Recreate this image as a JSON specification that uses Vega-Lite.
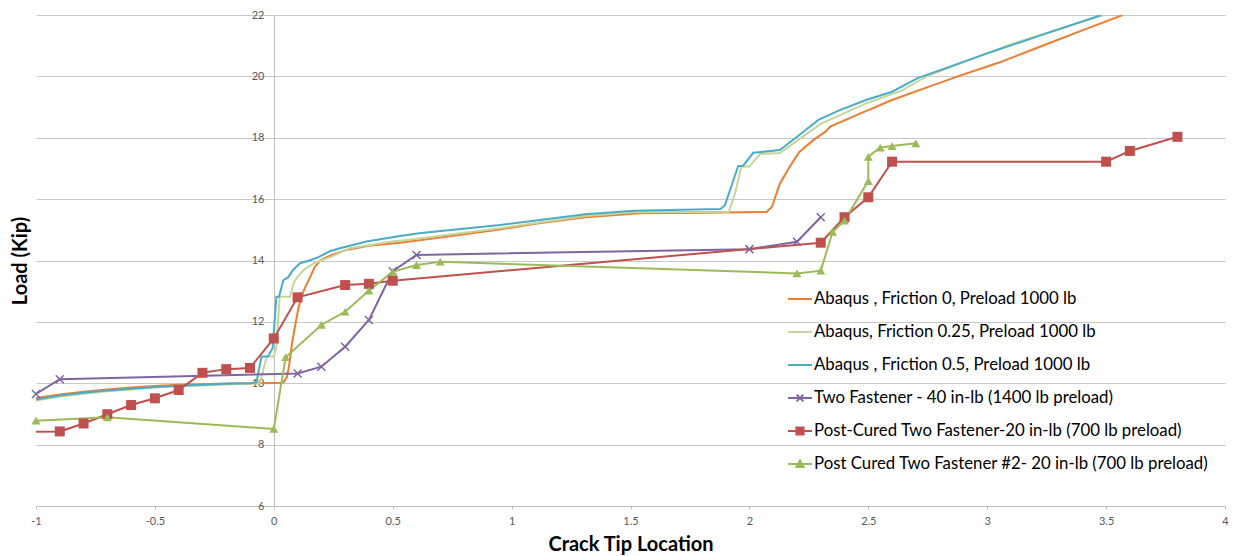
{
  "$schema": "https://vega.github.io/schema/vega-lite/v6.json",
  "width": 1189,
  "height": 491,
  "autosize": "none",
  "padding": {"left": 36, "top": 15, "right": 10, "bottom": 50},
  "background": "white",
  "config": {"font": "Lato", "view": {"stroke": null}},
  "data": {"values": [
    {"s":"Abaqus , Friction 0, Preload 1000 lb","i":0,"x":-1,"y":9.52},
    {"s":"Abaqus , Friction 0, Preload 1000 lb","i":1,"x":-0.9,"y":9.63},
    {"s":"Abaqus , Friction 0, Preload 1000 lb","i":2,"x":-0.8,"y":9.72},
    {"s":"Abaqus , Friction 0, Preload 1000 lb","i":3,"x":-0.7,"y":9.8},
    {"s":"Abaqus , Friction 0, Preload 1000 lb","i":4,"x":-0.6,"y":9.86},
    {"s":"Abaqus , Friction 0, Preload 1000 lb","i":5,"x":-0.5,"y":9.91},
    {"s":"Abaqus , Friction 0, Preload 1000 lb","i":6,"x":-0.4,"y":9.95},
    {"s":"Abaqus , Friction 0, Preload 1000 lb","i":7,"x":-0.3,"y":9.97},
    {"s":"Abaqus , Friction 0, Preload 1000 lb","i":8,"x":-0.2,"y":9.99},
    {"s":"Abaqus , Friction 0, Preload 1000 lb","i":9,"x":-0.1,"y":10.0},
    {"s":"Abaqus , Friction 0, Preload 1000 lb","i":10,"x":0,"y":10.01},
    {"s":"Abaqus , Friction 0, Preload 1000 lb","i":11,"x":0.04,"y":10.02},
    {"s":"Abaqus , Friction 0, Preload 1000 lb","i":12,"x":0.055,"y":10.2},
    {"s":"Abaqus , Friction 0, Preload 1000 lb","i":13,"x":0.065,"y":10.6},
    {"s":"Abaqus , Friction 0, Preload 1000 lb","i":14,"x":0.075,"y":11.2},
    {"s":"Abaqus , Friction 0, Preload 1000 lb","i":15,"x":0.09,"y":11.9},
    {"s":"Abaqus , Friction 0, Preload 1000 lb","i":16,"x":0.105,"y":12.5},
    {"s":"Abaqus , Friction 0, Preload 1000 lb","i":17,"x":0.125,"y":13.0},
    {"s":"Abaqus , Friction 0, Preload 1000 lb","i":18,"x":0.15,"y":13.42},
    {"s":"Abaqus , Friction 0, Preload 1000 lb","i":19,"x":0.173,"y":13.8},
    {"s":"Abaqus , Friction 0, Preload 1000 lb","i":20,"x":0.2,"y":14.02},
    {"s":"Abaqus , Friction 0, Preload 1000 lb","i":21,"x":0.225,"y":14.12},
    {"s":"Abaqus , Friction 0, Preload 1000 lb","i":22,"x":0.25,"y":14.2},
    {"s":"Abaqus , Friction 0, Preload 1000 lb","i":23,"x":0.3,"y":14.33},
    {"s":"Abaqus , Friction 0, Preload 1000 lb","i":24,"x":0.4,"y":14.48},
    {"s":"Abaqus , Friction 0, Preload 1000 lb","i":25,"x":0.53,"y":14.58},
    {"s":"Abaqus , Friction 0, Preload 1000 lb","i":26,"x":0.7,"y":14.75},
    {"s":"Abaqus , Friction 0, Preload 1000 lb","i":27,"x":0.95,"y":15.01},
    {"s":"Abaqus , Friction 0, Preload 1000 lb","i":28,"x":1.1,"y":15.2},
    {"s":"Abaqus , Friction 0, Preload 1000 lb","i":29,"x":1.31,"y":15.41},
    {"s":"Abaqus , Friction 0, Preload 1000 lb","i":30,"x":1.54,"y":15.54},
    {"s":"Abaqus , Friction 0, Preload 1000 lb","i":31,"x":1.8,"y":15.56},
    {"s":"Abaqus , Friction 0, Preload 1000 lb","i":32,"x":2.072,"y":15.58},
    {"s":"Abaqus , Friction 0, Preload 1000 lb","i":33,"x":2.095,"y":15.75},
    {"s":"Abaqus , Friction 0, Preload 1000 lb","i":34,"x":2.128,"y":16.5},
    {"s":"Abaqus , Friction 0, Preload 1000 lb","i":35,"x":2.17,"y":17.06},
    {"s":"Abaqus , Friction 0, Preload 1000 lb","i":36,"x":2.21,"y":17.54},
    {"s":"Abaqus , Friction 0, Preload 1000 lb","i":37,"x":2.27,"y":17.93},
    {"s":"Abaqus , Friction 0, Preload 1000 lb","i":38,"x":2.32,"y":18.2},
    {"s":"Abaqus , Friction 0, Preload 1000 lb","i":39,"x":2.34,"y":18.36},
    {"s":"Abaqus , Friction 0, Preload 1000 lb","i":40,"x":2.45,"y":18.74},
    {"s":"Abaqus , Friction 0, Preload 1000 lb","i":41,"x":2.6,"y":19.23},
    {"s":"Abaqus , Friction 0, Preload 1000 lb","i":42,"x":2.75,"y":19.65},
    {"s":"Abaqus , Friction 0, Preload 1000 lb","i":43,"x":2.876,"y":20.0},
    {"s":"Abaqus , Friction 0, Preload 1000 lb","i":44,"x":3.05,"y":20.45},
    {"s":"Abaqus , Friction 0, Preload 1000 lb","i":45,"x":3.2,"y":20.9},
    {"s":"Abaqus , Friction 0, Preload 1000 lb","i":46,"x":3.4,"y":21.5},
    {"s":"Abaqus , Friction 0, Preload 1000 lb","i":47,"x":3.57,"y":22.0},

    {"s":"Abaqus, Friction 0.25, Preload 1000 lb","i":0,"x":-1,"y":9.44},
    {"s":"Abaqus, Friction 0.25, Preload 1000 lb","i":1,"x":-0.9,"y":9.57},
    {"s":"Abaqus, Friction 0.25, Preload 1000 lb","i":2,"x":-0.8,"y":9.66},
    {"s":"Abaqus, Friction 0.25, Preload 1000 lb","i":3,"x":-0.7,"y":9.74},
    {"s":"Abaqus, Friction 0.25, Preload 1000 lb","i":4,"x":-0.6,"y":9.8},
    {"s":"Abaqus, Friction 0.25, Preload 1000 lb","i":5,"x":-0.5,"y":9.86},
    {"s":"Abaqus, Friction 0.25, Preload 1000 lb","i":6,"x":-0.4,"y":9.9},
    {"s":"Abaqus, Friction 0.25, Preload 1000 lb","i":7,"x":-0.3,"y":9.93},
    {"s":"Abaqus, Friction 0.25, Preload 1000 lb","i":8,"x":-0.2,"y":9.96},
    {"s":"Abaqus, Friction 0.25, Preload 1000 lb","i":9,"x":-0.1,"y":9.98},
    {"s":"Abaqus, Friction 0.25, Preload 1000 lb","i":10,"x":-0.06,"y":10.0},
    {"s":"Abaqus, Friction 0.25, Preload 1000 lb","i":11,"x":-0.045,"y":10.4},
    {"s":"Abaqus, Friction 0.25, Preload 1000 lb","i":12,"x":-0.03,"y":10.87},
    {"s":"Abaqus, Friction 0.25, Preload 1000 lb","i":13,"x":0.0,"y":10.87},
    {"s":"Abaqus, Friction 0.25, Preload 1000 lb","i":14,"x":0.01,"y":11.14},
    {"s":"Abaqus, Friction 0.25, Preload 1000 lb","i":15,"x":0.025,"y":12.82},
    {"s":"Abaqus, Friction 0.25, Preload 1000 lb","i":16,"x":0.068,"y":12.82},
    {"s":"Abaqus, Friction 0.25, Preload 1000 lb","i":17,"x":0.085,"y":13.3},
    {"s":"Abaqus, Friction 0.25, Preload 1000 lb","i":18,"x":0.1,"y":13.47},
    {"s":"Abaqus, Friction 0.25, Preload 1000 lb","i":19,"x":0.125,"y":13.69},
    {"s":"Abaqus, Friction 0.25, Preload 1000 lb","i":20,"x":0.17,"y":13.91},
    {"s":"Abaqus, Friction 0.25, Preload 1000 lb","i":21,"x":0.2,"y":14.0},
    {"s":"Abaqus, Friction 0.25, Preload 1000 lb","i":22,"x":0.24,"y":14.12},
    {"s":"Abaqus, Friction 0.25, Preload 1000 lb","i":23,"x":0.32,"y":14.4},
    {"s":"Abaqus, Friction 0.25, Preload 1000 lb","i":24,"x":0.49,"y":14.61},
    {"s":"Abaqus, Friction 0.25, Preload 1000 lb","i":25,"x":0.61,"y":14.72},
    {"s":"Abaqus, Friction 0.25, Preload 1000 lb","i":26,"x":0.95,"y":15.05},
    {"s":"Abaqus, Friction 0.25, Preload 1000 lb","i":27,"x":1.31,"y":15.45},
    {"s":"Abaqus, Friction 0.25, Preload 1000 lb","i":28,"x":1.51,"y":15.57},
    {"s":"Abaqus, Friction 0.25, Preload 1000 lb","i":29,"x":1.914,"y":15.59},
    {"s":"Abaqus, Friction 0.25, Preload 1000 lb","i":30,"x":1.94,"y":16.2},
    {"s":"Abaqus, Friction 0.25, Preload 1000 lb","i":31,"x":1.966,"y":17.06},
    {"s":"Abaqus, Friction 0.25, Preload 1000 lb","i":32,"x":2.0,"y":17.06},
    {"s":"Abaqus, Friction 0.25, Preload 1000 lb","i":33,"x":2.044,"y":17.47},
    {"s":"Abaqus, Friction 0.25, Preload 1000 lb","i":34,"x":2.128,"y":17.5},
    {"s":"Abaqus, Friction 0.25, Preload 1000 lb","i":35,"x":2.2,"y":17.9},
    {"s":"Abaqus, Friction 0.25, Preload 1000 lb","i":36,"x":2.3,"y":18.45},
    {"s":"Abaqus, Friction 0.25, Preload 1000 lb","i":37,"x":2.4,"y":18.8},
    {"s":"Abaqus, Friction 0.25, Preload 1000 lb","i":38,"x":2.5,"y":19.15},
    {"s":"Abaqus, Friction 0.25, Preload 1000 lb","i":39,"x":2.636,"y":19.52},
    {"s":"Abaqus, Friction 0.25, Preload 1000 lb","i":40,"x":2.745,"y":20.0},
    {"s":"Abaqus, Friction 0.25, Preload 1000 lb","i":41,"x":3.1,"y":21.05},
    {"s":"Abaqus, Friction 0.25, Preload 1000 lb","i":42,"x":3.49,"y":22.0},

    {"s":"Abaqus , Friction 0.5, Preload 1000 lb","i":0,"x":-1,"y":9.47},
    {"s":"Abaqus , Friction 0.5, Preload 1000 lb","i":1,"x":-0.9,"y":9.6},
    {"s":"Abaqus , Friction 0.5, Preload 1000 lb","i":2,"x":-0.8,"y":9.69},
    {"s":"Abaqus , Friction 0.5, Preload 1000 lb","i":3,"x":-0.7,"y":9.76},
    {"s":"Abaqus , Friction 0.5, Preload 1000 lb","i":4,"x":-0.6,"y":9.82},
    {"s":"Abaqus , Friction 0.5, Preload 1000 lb","i":5,"x":-0.5,"y":9.88},
    {"s":"Abaqus , Friction 0.5, Preload 1000 lb","i":6,"x":-0.4,"y":9.92},
    {"s":"Abaqus , Friction 0.5, Preload 1000 lb","i":7,"x":-0.3,"y":9.95},
    {"s":"Abaqus , Friction 0.5, Preload 1000 lb","i":8,"x":-0.2,"y":9.98},
    {"s":"Abaqus , Friction 0.5, Preload 1000 lb","i":9,"x":-0.1,"y":10.0},
    {"s":"Abaqus , Friction 0.5, Preload 1000 lb","i":10,"x":-0.073,"y":10.02},
    {"s":"Abaqus , Friction 0.5, Preload 1000 lb","i":11,"x":-0.052,"y":10.87},
    {"s":"Abaqus , Friction 0.5, Preload 1000 lb","i":12,"x":-0.024,"y":10.87},
    {"s":"Abaqus , Friction 0.5, Preload 1000 lb","i":13,"x":-0.005,"y":11.14},
    {"s":"Abaqus , Friction 0.5, Preload 1000 lb","i":14,"x":0.011,"y":12.82},
    {"s":"Abaqus , Friction 0.5, Preload 1000 lb","i":15,"x":0.022,"y":12.82},
    {"s":"Abaqus , Friction 0.5, Preload 1000 lb","i":16,"x":0.04,"y":13.36},
    {"s":"Abaqus , Friction 0.5, Preload 1000 lb","i":17,"x":0.06,"y":13.45},
    {"s":"Abaqus , Friction 0.5, Preload 1000 lb","i":18,"x":0.081,"y":13.69},
    {"s":"Abaqus , Friction 0.5, Preload 1000 lb","i":19,"x":0.11,"y":13.91},
    {"s":"Abaqus , Friction 0.5, Preload 1000 lb","i":20,"x":0.15,"y":14.0},
    {"s":"Abaqus , Friction 0.5, Preload 1000 lb","i":21,"x":0.19,"y":14.12},
    {"s":"Abaqus , Friction 0.5, Preload 1000 lb","i":22,"x":0.236,"y":14.3},
    {"s":"Abaqus , Friction 0.5, Preload 1000 lb","i":23,"x":0.278,"y":14.4},
    {"s":"Abaqus , Friction 0.5, Preload 1000 lb","i":24,"x":0.39,"y":14.62},
    {"s":"Abaqus , Friction 0.5, Preload 1000 lb","i":25,"x":0.531,"y":14.8},
    {"s":"Abaqus , Friction 0.5, Preload 1000 lb","i":26,"x":0.61,"y":14.89},
    {"s":"Abaqus , Friction 0.5, Preload 1000 lb","i":27,"x":0.952,"y":15.16},
    {"s":"Abaqus , Friction 0.5, Preload 1000 lb","i":28,"x":1.31,"y":15.51},
    {"s":"Abaqus , Friction 0.5, Preload 1000 lb","i":29,"x":1.514,"y":15.62},
    {"s":"Abaqus , Friction 0.5, Preload 1000 lb","i":30,"x":1.878,"y":15.68},
    {"s":"Abaqus , Friction 0.5, Preload 1000 lb","i":31,"x":1.897,"y":15.8},
    {"s":"Abaqus , Friction 0.5, Preload 1000 lb","i":32,"x":1.953,"y":17.08},
    {"s":"Abaqus , Friction 0.5, Preload 1000 lb","i":33,"x":1.973,"y":17.08},
    {"s":"Abaqus , Friction 0.5, Preload 1000 lb","i":34,"x":2.016,"y":17.51},
    {"s":"Abaqus , Friction 0.5, Preload 1000 lb","i":35,"x":2.128,"y":17.6},
    {"s":"Abaqus , Friction 0.5, Preload 1000 lb","i":36,"x":2.21,"y":18.09},
    {"s":"Abaqus , Friction 0.5, Preload 1000 lb","i":37,"x":2.29,"y":18.58},
    {"s":"Abaqus , Friction 0.5, Preload 1000 lb","i":38,"x":2.38,"y":18.9},
    {"s":"Abaqus , Friction 0.5, Preload 1000 lb","i":39,"x":2.49,"y":19.23},
    {"s":"Abaqus , Friction 0.5, Preload 1000 lb","i":40,"x":2.6,"y":19.5},
    {"s":"Abaqus , Friction 0.5, Preload 1000 lb","i":41,"x":2.71,"y":19.95},
    {"s":"Abaqus , Friction 0.5, Preload 1000 lb","i":42,"x":3.0,"y":20.75},
    {"s":"Abaqus , Friction 0.5, Preload 1000 lb","i":43,"x":3.25,"y":21.4},
    {"s":"Abaqus , Friction 0.5, Preload 1000 lb","i":44,"x":3.48,"y":22.0},

    {"s":"Two Fastener - 40 in-lb (1400 lb preload)","i":0,"x":-1,"y":9.65},
    {"s":"Two Fastener - 40 in-lb (1400 lb preload)","i":1,"x":-0.9,"y":10.13},
    {"s":"Two Fastener - 40 in-lb (1400 lb preload)","i":2,"x":0.1,"y":10.32},
    {"s":"Two Fastener - 40 in-lb (1400 lb preload)","i":3,"x":0.2,"y":10.54},
    {"s":"Two Fastener - 40 in-lb (1400 lb preload)","i":4,"x":0.3,"y":11.19},
    {"s":"Two Fastener - 40 in-lb (1400 lb preload)","i":5,"x":0.4,"y":12.06},
    {"s":"Two Fastener - 40 in-lb (1400 lb preload)","i":6,"x":0.5,"y":13.65},
    {"s":"Two Fastener - 40 in-lb (1400 lb preload)","i":7,"x":0.6,"y":14.18},
    {"s":"Two Fastener - 40 in-lb (1400 lb preload)","i":8,"x":2.0,"y":14.37},
    {"s":"Two Fastener - 40 in-lb (1400 lb preload)","i":9,"x":2.2,"y":14.61},
    {"s":"Two Fastener - 40 in-lb (1400 lb preload)","i":10,"x":2.3,"y":15.41},

    {"s":"Post-Cured Two Fastener-20 in-lb (700 lb preload)","i":0,"x":-1,"y":8.42},
    {"s":"Post-Cured Two Fastener-20 in-lb (700 lb preload)","i":1,"x":-0.9,"y":8.43},
    {"s":"Post-Cured Two Fastener-20 in-lb (700 lb preload)","i":2,"x":-0.8,"y":8.69},
    {"s":"Post-Cured Two Fastener-20 in-lb (700 lb preload)","i":3,"x":-0.7,"y":8.99},
    {"s":"Post-Cured Two Fastener-20 in-lb (700 lb preload)","i":4,"x":-0.6,"y":9.29},
    {"s":"Post-Cured Two Fastener-20 in-lb (700 lb preload)","i":5,"x":-0.5,"y":9.51},
    {"s":"Post-Cured Two Fastener-20 in-lb (700 lb preload)","i":6,"x":-0.4,"y":9.78},
    {"s":"Post-Cured Two Fastener-20 in-lb (700 lb preload)","i":7,"x":-0.3,"y":10.34},
    {"s":"Post-Cured Two Fastener-20 in-lb (700 lb preload)","i":8,"x":-0.2,"y":10.46},
    {"s":"Post-Cured Two Fastener-20 in-lb (700 lb preload)","i":9,"x":-0.1,"y":10.5},
    {"s":"Post-Cured Two Fastener-20 in-lb (700 lb preload)","i":10,"x":0,"y":11.46},
    {"s":"Post-Cured Two Fastener-20 in-lb (700 lb preload)","i":11,"x":0.1,"y":12.8},
    {"s":"Post-Cured Two Fastener-20 in-lb (700 lb preload)","i":12,"x":0.3,"y":13.2},
    {"s":"Post-Cured Two Fastener-20 in-lb (700 lb preload)","i":13,"x":0.4,"y":13.24},
    {"s":"Post-Cured Two Fastener-20 in-lb (700 lb preload)","i":14,"x":0.5,"y":13.34},
    {"s":"Post-Cured Two Fastener-20 in-lb (700 lb preload)","i":15,"x":2.3,"y":14.58},
    {"s":"Post-Cured Two Fastener-20 in-lb (700 lb preload)","i":16,"x":2.4,"y":15.41},
    {"s":"Post-Cured Two Fastener-20 in-lb (700 lb preload)","i":17,"x":2.5,"y":16.06},
    {"s":"Post-Cured Two Fastener-20 in-lb (700 lb preload)","i":18,"x":2.6,"y":17.22},
    {"s":"Post-Cured Two Fastener-20 in-lb (700 lb preload)","i":19,"x":3.5,"y":17.22},
    {"s":"Post-Cured Two Fastener-20 in-lb (700 lb preload)","i":20,"x":3.6,"y":17.57},
    {"s":"Post-Cured Two Fastener-20 in-lb (700 lb preload)","i":21,"x":3.8,"y":18.03},

    {"s":"Post Cured Two Fastener #2- 20 in-lb (700 lb preload)","i":0,"x":-1,"y":8.78},
    {"s":"Post Cured Two Fastener #2- 20 in-lb (700 lb preload)","i":1,"x":-0.7,"y":8.89},
    {"s":"Post Cured Two Fastener #2- 20 in-lb (700 lb preload)","i":2,"x":0,"y":8.51},
    {"s":"Post Cured Two Fastener #2- 20 in-lb (700 lb preload)","i":3,"x":0.05,"y":10.85},
    {"s":"Post Cured Two Fastener #2- 20 in-lb (700 lb preload)","i":4,"x":0.2,"y":11.9},
    {"s":"Post Cured Two Fastener #2- 20 in-lb (700 lb preload)","i":5,"x":0.3,"y":12.33},
    {"s":"Post Cured Two Fastener #2- 20 in-lb (700 lb preload)","i":6,"x":0.4,"y":13.02},
    {"s":"Post Cured Two Fastener #2- 20 in-lb (700 lb preload)","i":7,"x":0.5,"y":13.63},
    {"s":"Post Cured Two Fastener #2- 20 in-lb (700 lb preload)","i":8,"x":0.6,"y":13.85},
    {"s":"Post Cured Two Fastener #2- 20 in-lb (700 lb preload)","i":9,"x":0.7,"y":13.96},
    {"s":"Post Cured Two Fastener #2- 20 in-lb (700 lb preload)","i":10,"x":2.2,"y":13.58},
    {"s":"Post Cured Two Fastener #2- 20 in-lb (700 lb preload)","i":11,"x":2.3,"y":13.67},
    {"s":"Post Cured Two Fastener #2- 20 in-lb (700 lb preload)","i":12,"x":2.35,"y":14.93},
    {"s":"Post Cured Two Fastener #2- 20 in-lb (700 lb preload)","i":13,"x":2.4,"y":15.3},
    {"s":"Post Cured Two Fastener #2- 20 in-lb (700 lb preload)","i":14,"x":2.5,"y":16.59},
    {"s":"Post Cured Two Fastener #2- 20 in-lb (700 lb preload)","i":15,"x":2.5,"y":17.38},
    {"s":"Post Cured Two Fastener #2- 20 in-lb (700 lb preload)","i":16,"x":2.55,"y":17.68},
    {"s":"Post Cured Two Fastener #2- 20 in-lb (700 lb preload)","i":17,"x":2.6,"y":17.73},
    {"s":"Post Cured Two Fastener #2- 20 in-lb (700 lb preload)","i":18,"x":2.7,"y":17.82}
  ]},
  "layer": [
    {
      "mark": {"type": "line", "strokeWidth": 2, "clip": true},
      "encoding": {
        "x": {"field": "x", "type": "quantitative",
          "scale": {"domain": [-1, 4], "nice": false, "zero": false},
          "axis": {"values": [-1, -0.5, 0, 0.5, 1, 1.5, 2, 2.5, 3, 3.5, 4], "labelExpr": "datum.value + ''",
            "labelFont": "Lato", "labelFontSize": 11, "labelColor": "#595959", "labelFlush": false, "labelOverlap": false,
            "tickSize": 3, "tickColor": "#BFBFBF", "domainColor": "#BFBFBF", "grid": false, "labelPadding": 6,
            "title": "Crack Tip Location", "titleFont": "Lato", "titleFontSize": 20, "titleFontWeight": "bold", "titleColor": "#000000", "titlePadding": 8}},
        "y": {"field": "y", "type": "quantitative",
          "scale": {"domain": [6, 22], "nice": false, "zero": false},
          "axis": {"values": [6, 8, 10, 12, 14, 16, 18, 20, 22], "labelExpr": "datum.value + ''", "offset": -238,
            "labelFont": "Lato", "labelFontSize": 11, "labelColor": "#595959", "ticks": false, "tickSize": 0, "labelPadding": 10,
            "domainColor": "#BFBFBF", "grid": true, "gridColor": "#C8C8C8",
            "title": "Load (Kip)", "titleFont": "Lato", "titleFontSize": 20, "titleFontWeight": "bold", "titleColor": "#000000",
            "titleX": -254, "titleY": 245.5, "titleAngle": -90, "titleAlign": "center", "titleBaseline": "middle"}},
        "color": {"field": "s", "type": "nominal",
          "scale": {"domain": ["Abaqus , Friction 0, Preload 1000 lb", "Abaqus, Friction 0.25, Preload 1000 lb", "Abaqus , Friction 0.5, Preload 1000 lb", "Two Fastener - 40 in-lb (1400 lb preload)", "Post-Cured Two Fastener-20 in-lb (700 lb preload)", "Post Cured Two Fastener #2- 20 in-lb (700 lb preload)"],
            "range": ["#ED7D31", "#C3D69B", "#4BACC6", "#8064A2", "#C0504D", "#9BBB59"]},
          "legend": {"orient": "none", "legendX": 751, "legendY": 271, "title": null, "symbolSize": 576, "symbolStrokeWidth": 2,
            "labelFont": "Lato", "labelFontSize": 16.8, "labelColor": "#000000", "labelOffset": 1, "rowPadding": 11, "padding": 0, "labelLimit": 600}},
        "order": {"field": "i", "type": "quantitative"}
      }
    },
    {
      "transform": [{"filter": "datum.s == 'Two Fastener - 40 in-lb (1400 lb preload)'"}],
      "mark": {"type": "point", "shape": "M-1,-1L1,1M-1,1L1,-1", "size": 64, "strokeWidth": 1.5, "filled": false, "opacity": 1},
      "encoding": {
        "x": {"field": "x", "type": "quantitative"},
        "y": {"field": "y", "type": "quantitative"},
        "color": {"field": "s", "type": "nominal"}
      }
    },
    {
      "transform": [{"filter": "datum.s == 'Post-Cured Two Fastener-20 in-lb (700 lb preload)' && datum.x > -1"}],
      "mark": {"type": "point", "shape": "square", "size": 100, "filled": true, "opacity": 1},
      "encoding": {
        "x": {"field": "x", "type": "quantitative"},
        "y": {"field": "y", "type": "quantitative"},
        "color": {"field": "s", "type": "nominal"}
      }
    },
    {
      "transform": [{"filter": "datum.s == 'Post Cured Two Fastener #2- 20 in-lb (700 lb preload)'"}],
      "mark": {"type": "point", "shape": "triangle-up", "size": 80, "filled": true, "opacity": 1},
      "encoding": {
        "x": {"field": "x", "type": "quantitative"},
        "y": {"field": "y", "type": "quantitative"},
        "color": {"field": "s", "type": "nominal"}
      }
    },
    {
      "transform": [{"filter": "datum.i < 0"}],
      "mark": {"type": "point", "filled": true, "strokeWidth": 2},
      "encoding": {
        "x": {"field": "x", "type": "quantitative"},
        "y": {"field": "y", "type": "quantitative"},
        "fill": {"field": "s", "type": "nominal",
          "scale": {"domain": ["Abaqus , Friction 0, Preload 1000 lb", "Abaqus, Friction 0.25, Preload 1000 lb", "Abaqus , Friction 0.5, Preload 1000 lb", "Two Fastener - 40 in-lb (1400 lb preload)", "Post-Cured Two Fastener-20 in-lb (700 lb preload)", "Post Cured Two Fastener #2- 20 in-lb (700 lb preload)"],
            "range": ["#ED7D31", "#C3D69B", "#4BACC6", "#8064A2", "#C0504D", "#9BBB59"]},
          "legend": {"orient": "none", "legendX": 751, "legendY": 271, "title": null, "symbolSize": 576, "symbolStrokeWidth": 2,
            "labelFont": "Lato", "labelFontSize": 16.8, "labelColor": "#000000", "labelOffset": 1, "rowPadding": 11, "padding": 0, "labelLimit": 600}},
        "stroke": {"field": "s", "type": "nominal",
          "scale": {"domain": ["Abaqus , Friction 0, Preload 1000 lb", "Abaqus, Friction 0.25, Preload 1000 lb", "Abaqus , Friction 0.5, Preload 1000 lb", "Two Fastener - 40 in-lb (1400 lb preload)", "Post-Cured Two Fastener-20 in-lb (700 lb preload)", "Post Cured Two Fastener #2- 20 in-lb (700 lb preload)"],
            "range": ["#ED7D31", "#C3D69B", "#4BACC6", "#8064A2", "#C0504D", "#9BBB59"]},
          "legend": {"orient": "none", "legendX": 751, "legendY": 271, "title": null, "symbolSize": 576, "symbolStrokeWidth": 2,
            "labelFont": "Lato", "labelFontSize": 16.8, "labelColor": "#000000", "labelOffset": 1, "rowPadding": 11, "padding": 0, "labelLimit": 600}},
        "shape": {"field": "s", "type": "nominal",
          "scale": {"domain": ["Abaqus , Friction 0, Preload 1000 lb", "Abaqus, Friction 0.25, Preload 1000 lb", "Abaqus , Friction 0.5, Preload 1000 lb", "Two Fastener - 40 in-lb (1400 lb preload)", "Post-Cured Two Fastener-20 in-lb (700 lb preload)", "Post Cured Two Fastener #2- 20 in-lb (700 lb preload)"],
            "range": ["M-1,0H1", "M-1,0H1", "M-1,0H1", "M-1,0H1M-0.28,-0.28L0.28,0.28M-0.28,0.28L0.28,-0.28", "M-1,0H1M-0.3,-0.3H0.3V0.3H-0.3Z", "M-1,0H1M-0.3,0.25L0,-0.3L0.3,0.25Z"]},
          "legend": {"orient": "none", "legendX": 751, "legendY": 271, "title": null, "symbolSize": 576, "symbolStrokeWidth": 2,
            "labelFont": "Lato", "labelFontSize": 16.8, "labelColor": "#000000", "labelOffset": 1, "rowPadding": 11, "padding": 0, "labelLimit": 600}}
      }
    }
  ]
}
